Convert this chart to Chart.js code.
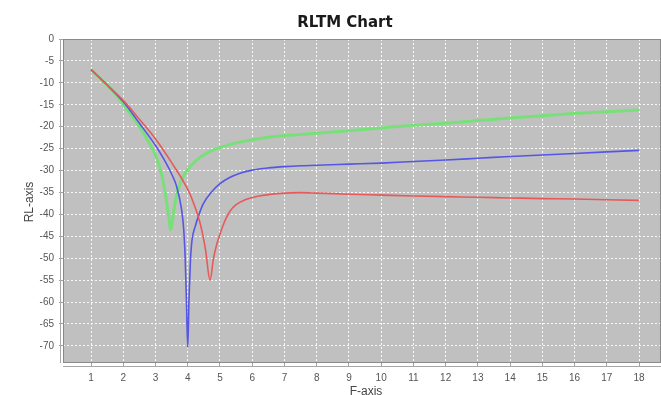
<!DOCTYPE html>
<html>
<head>
<meta charset="utf-8">
<title>RLTM Chart</title>
<script src="https://cdn.jsdelivr.net/npm/chart.js"></script>
<style>
html, body { margin: 0; padding: 0; background: #fff; overflow: hidden; }
</style>
</head>
<body>
<canvas id="chart-area" width="661" height="395"></canvas>
<script>
// values
var redF  = [1, 1.5, 2, 2.5, 3, 3.5, 4, 4.2, 4.4, 4.55, 4.69, 4.8, 4.9, 5.0, 5.15, 5.3, 5.5, 5.8, 6.2, 6.9, 7.5, 8, 9, 10, 11, 12, 13, 14, 15, 16, 17, 18];
var redRL = [-7, -10.5, -14, -18.3, -22.8, -28.2, -34.3, -37.8, -42.5, -48, -55, -50, -46.8, -44.5, -41.5, -39.4, -37.8, -36.6, -35.8, -35.2, -35.05, -35.15, -35.4, -35.6, -35.8, -35.95, -36.1, -36.25, -36.4, -36.5, -36.65, -36.8];

var blueF  = [1, 1.5, 2, 2.5, 3, 3.25, 3.5, 3.65, 3.8, 3.87, 3.92, 3.96, 4.0, 4.04, 4.08, 4.13, 4.23, 4.35, 4.48, 4.75, 5.0, 5.3, 5.62, 6.0, 6.5, 7.0, 7.5, 8, 9, 10, 11, 12, 13, 14, 15, 16, 17, 18];
var blueRL = [-7, -10.5, -14.3, -19.2, -24.3, -27.3, -30.8, -33.5, -38.5, -43, -50, -60, -70.3, -59, -51, -46, -42.8, -40, -37.6, -34.8, -33, -31.6, -30.6, -29.9, -29.4, -29.1, -28.9, -28.8, -28.55, -28.3, -27.95, -27.6, -27.2, -26.8, -26.45, -26.1, -25.75, -25.4];

var greenF  = [1, 1.5, 1.8, 2, 2.25, 2.5, 2.75, 3, 3.15, 3.25, 3.36, 3.42, 3.47, 3.52, 3.57, 3.66, 3.8, 3.92, 4.1, 4.38, 4.8, 5.4, 6.0, 6.5, 7.5, 8, 9, 10, 11, 12, 13, 14, 15, 16, 17, 18];
var greenRL = [-7, -10.5, -12.9, -15.0, -17.4, -20, -23, -26.5, -29.8, -33, -38, -41, -43.6, -41.5, -39, -35.5, -32.3, -30.6, -28.9, -27, -25.3, -23.9, -23, -22.4, -21.8, -21.5, -20.9, -20.3, -19.7, -19.2, -18.6, -18.0, -17.5, -17.0, -16.6, -16.2];

var xTicks = [1, 2, 3, 4, 5, 6, 7, 8, 9, 10, 11, 12, 13, 14, 15, 16, 17, 18];
var yTicks = [0, -5, -10, -15, -20, -25, -30, -35, -40, -45, -50, -55, -60, -65, -70];

function toPoints(xs, ys) {
    var pts = [];
    for (var i = 0; i < xs.length; i++) pts.push({x: xs[i], y: ys[i]});
    return pts;
}

// grey plot background, axis lines and titles (JFreeChart look)
var plotStuff = {
    id: 'plotStuff',
    beforeDraw: function(chart) {
        var a = chart.chartArea, ctx = chart.ctx;
        ctx.save();
        ctx.fillStyle = '#ffffff';
        ctx.fillRect(0, 0, chart.width, chart.height);
        ctx.fillStyle = '#c0c0c0';
        ctx.fillRect(a.left, a.top, a.right - a.left, a.bottom - a.top);
        ctx.restore();
    },
    afterDraw: function(chart) {
        var a = chart.chartArea, ctx = chart.ctx;
        ctx.save();
        ctx.strokeStyle = '#8a8a8a';
        ctx.lineWidth = 1;
        ctx.strokeRect(a.left + 0.5, a.top + 0.5, a.right - a.left - 1, a.bottom - a.top - 1);
        ctx.strokeStyle = '#a8a8a8';
        ctx.beginPath();
        ctx.moveTo(a.left - 2.5, a.top);
        ctx.lineTo(a.left - 2.5, a.bottom);
        ctx.moveTo(a.left, a.bottom + 3.5);
        ctx.lineTo(a.right, a.bottom + 3.5);
        ctx.stroke();

        ctx.fillStyle = '#1a1a1a';
        ctx.font = 'bold 15px "DejaVu Sans"';
        ctx.textAlign = 'center';
        ctx.textBaseline = 'alphabetic';
        ctx.fillText('RLTM Chart', 345, 27);

        ctx.fillStyle = '#444444';
        ctx.font = '12px "Liberation Sans"';
        ctx.textBaseline = 'middle';
        ctx.fillText('F-axis', 366, 392);

        ctx.translate(30, 202);
        ctx.rotate(-Math.PI / 2);
        ctx.fillText('RL-axis', 0, 0);
        ctx.restore();
    }
};

var config = {
    type: 'scatter',
    data: {
        datasets: [{
            label: 'red',
            data: toPoints(redF, redRL),
            borderColor: '#e65a5a',
            borderWidth: 1.6
        }, {
            label: 'blue',
            data: toPoints(blueF, blueRL),
            borderColor: '#5656e6',
            borderWidth: 1.6
        }, {
            label: 'green',
            data: toPoints(greenF, greenRL),
            borderColor: '#78e078',
            borderWidth: 3
        }]
    },
    options: {
        responsive: false,
        animation: false,
        showLine: true,
        elements: {
            point: { radius: 0, hoverRadius: 0 },
            line: { cubicInterpolationMode: 'monotone', fill: false }
        },
        layout: { padding: { top: 39, left: 0, right: 0, bottom: 0 } },
        plugins: {
            legend: { display: false },
            tooltip: { enabled: false },
            title: { display: false }
        },
        scales: {
            x: {
                type: 'linear',
                min: 0.13,
                max: 18.68,
                afterBuildTicks: function(scale) {
                    scale.ticks = xTicks.map(function(v) { return {value: v}; });
                },
                afterFit: function(scale) { scale.height = 32; },
                grid: {
                    color: 'rgba(255,255,255,0.9)',
                    lineWidth: 1,
                    drawTicks: true,
                    tickLength: 4,
                    tickColor: '#a0a0a0'
                },
                border: { display: false, dash: [2, 2] },
                ticks: {
                    padding: 5,
                    color: '#555555',
                    maxRotation: 0,
                    autoSkip: false,
                    font: { family: 'Liberation Sans', size: 10 }
                }
            },
            y: {
                type: 'linear',
                min: -73.9,
                max: 0,
                afterBuildTicks: function(scale) {
                    scale.ticks = yTicks.map(function(v) { return {value: v}; });
                },
                afterFit: function(scale) { scale.width = 63; },
                grid: {
                    color: 'rgba(255,255,255,0.9)',
                    lineWidth: 1,
                    drawTicks: true,
                    tickLength: 4,
                    tickColor: '#a0a0a0'
                },
                border: { display: false, dash: [2, 2] },
                ticks: {
                    padding: 5,
                    color: '#555555',
                    autoSkip: false,
                    font: { family: 'Liberation Sans', size: 10 }
                }
            }
        }
    },
    plugins: [plotStuff]
};

window.onload = function() {
    var ctx = document.getElementById('chart-area').getContext('2d');
    window.myChart = new Chart(ctx, config);
};
</script>
</body>
</html>
